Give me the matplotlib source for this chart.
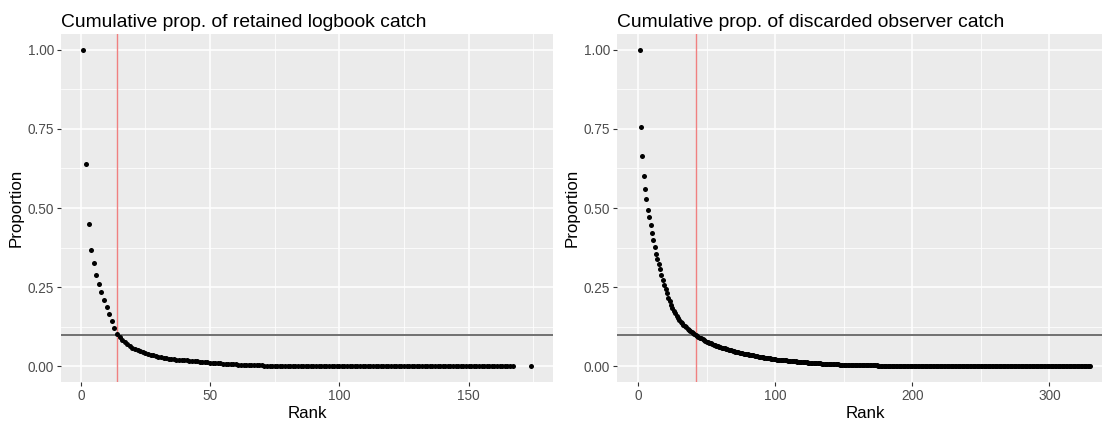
import matplotlib
matplotlib.use('Agg')
import matplotlib.pyplot as plt
import numpy as np

plt.rcParams['font.family'] = ['Liberation Sans', 'DejaVu Sans']

# cumulative proportion of retained catch (logbook), by species rank
logbook_rank = list(range(1, 168)) + [174]
logbook_prop = [
    1.000, 0.640, 0.449, 0.367, 0.325, 0.289, 0.259, 0.235, 0.210, 0.187,
    0.165, 0.142, 0.122, 0.101, 0.092, 0.084, 0.077, 0.070, 0.064, 0.059,
    0.055, 0.051, 0.047, 0.044, 0.041, 0.038, 0.036, 0.034, 0.032, 0.030,
    0.028, 0.027, 0.026, 0.024, 0.023, 0.022, 0.021, 0.020, 0.019, 0.019,
    0.018, 0.017, 0.016, 0.015, 0.015, 0.014, 0.013, 0.012, 0.012, 0.011,
    0.010, 0.010, 0.009, 0.009, 0.008, 0.008, 0.007, 0.007, 0.006, 0.006,
    0.005, 0.005, 0.005, 0.004, 0.004, 0.004, 0.003, 0.003, 0.003, 0.003,
    0.002, 0.002, 0.002, 0.002, 0.002, 0.002, 0.002, 0.002, 0.001, 0.001,
    0.001, 0.001, 0.001, 0.001, 0.001, 0.001, 0.001, 0.001, 0.001, 0.001,
    0.001, 0.001, 0.001, 0.001, 0.001, 0.001, 0.001, 0.001, 0.001, 0.001,
    0.001, 0.001, 0.001, 0.001, 0.001, 0.000, 0.000, 0.000, 0.000, 0.000,
    0.000, 0.000, 0.000, 0.000, 0.000, 0.000, 0.000, 0.000, 0.000, 0.000,
    0.000, 0.000, 0.000, 0.000, 0.000, 0.000, 0.000, 0.000, 0.000, 0.000,
    0.000, 0.000, 0.000, 0.000, 0.000, 0.000, 0.000, 0.000, 0.000, 0.000,
    0.000, 0.000, 0.000, 0.000, 0.000, 0.000, 0.000, 0.000, 0.000, 0.000,
    0.000, 0.000, 0.000, 0.000, 0.000, 0.000, 0.000, 0.000, 0.000, 0.000,
    0.000, 0.000, 0.000, 0.000, 0.000, 0.000, 0.000, 0.000,
]
logbook_cut = 14

# cumulative proportion of discarded catch (observer), by species rank
observer_rank = list(range(1, 331))
observer_prop = [
    1.000, 0.757, 0.665, 0.602, 0.560, 0.527, 0.494, 0.470, 0.446, 0.420,
    0.399, 0.378, 0.356, 0.338, 0.323, 0.306, 0.289, 0.273, 0.258, 0.244,
    0.230, 0.217, 0.205, 0.194, 0.184, 0.175, 0.167, 0.160, 0.153, 0.147,
    0.141, 0.136, 0.131, 0.127, 0.123, 0.119, 0.115, 0.112, 0.109, 0.106,
    0.103, 0.099, 0.096, 0.093, 0.090, 0.088, 0.085, 0.083, 0.080, 0.078,
    0.076, 0.074, 0.072, 0.070, 0.068, 0.066, 0.065, 0.063, 0.062, 0.060,
    0.059, 0.057, 0.056, 0.055, 0.053, 0.052, 0.051, 0.050, 0.048, 0.047,
    0.046, 0.045, 0.044, 0.043, 0.042, 0.041, 0.040, 0.039, 0.038, 0.037,
    0.036, 0.035, 0.034, 0.034, 0.033, 0.032, 0.031, 0.030, 0.030, 0.029,
    0.028, 0.027, 0.027, 0.026, 0.025, 0.025, 0.024, 0.023, 0.023, 0.022,
    0.021, 0.021, 0.020, 0.020, 0.019, 0.019, 0.018, 0.018, 0.017, 0.017,
    0.016, 0.016, 0.015, 0.015, 0.015, 0.014, 0.014, 0.013, 0.013, 0.013,
    0.012, 0.012, 0.012, 0.011, 0.011, 0.011, 0.010, 0.010, 0.010, 0.009,
    0.009, 0.009, 0.009, 0.008, 0.008, 0.008, 0.008, 0.007, 0.007, 0.007,
    0.007, 0.006, 0.006, 0.006, 0.006, 0.006, 0.005, 0.005, 0.005, 0.005,
    0.005, 0.005, 0.004, 0.004, 0.004, 0.004, 0.004, 0.004, 0.004, 0.003,
    0.003, 0.003, 0.003, 0.003, 0.003, 0.003, 0.003, 0.003, 0.003, 0.003,
    0.003, 0.003, 0.003, 0.003, 0.002, 0.002, 0.002, 0.002, 0.002, 0.002,
    0.002, 0.002, 0.002, 0.002, 0.002, 0.002, 0.002, 0.002, 0.002, 0.002,
    0.001, 0.001, 0.001, 0.001, 0.001, 0.001, 0.001, 0.001, 0.001, 0.001,
    0.001, 0.001, 0.001, 0.001, 0.001, 0.001, 0.001, 0.001, 0.001, 0.001,
    0.001, 0.001, 0.001, 0.001, 0.001, 0.001, 0.001, 0.001, 0.001, 0.001,
    0.001, 0.001, 0.001, 0.001, 0.001, 0.001, 0.001, 0.001, 0.001, 0.001,
    0.001, 0.001, 0.001, 0.001, 0.001, 0.000, 0.000, 0.000, 0.000, 0.000,
    0.000, 0.000, 0.000, 0.000, 0.000, 0.000, 0.000, 0.000, 0.000, 0.000,
    0.000, 0.000, 0.000, 0.000, 0.000, 0.000, 0.000, 0.000, 0.000, 0.000,
    0.000, 0.000, 0.000, 0.000, 0.000, 0.000, 0.000, 0.000, 0.000, 0.000,
    0.000, 0.000, 0.000, 0.000, 0.000, 0.000, 0.000, 0.000, 0.000, 0.000,
    0.000, 0.000, 0.000, 0.000, 0.000, 0.000, 0.000, 0.000, 0.000, 0.000,
    0.000, 0.000, 0.000, 0.000, 0.000, 0.000, 0.000, 0.000, 0.000, 0.000,
    0.000, 0.000, 0.000, 0.000, 0.000, 0.000, 0.000, 0.000, 0.000, 0.000,
    0.000, 0.000, 0.000, 0.000, 0.000, 0.000, 0.000, 0.000, 0.000, 0.000,
    0.000, 0.000, 0.000, 0.000, 0.000, 0.000, 0.000, 0.000, 0.000, 0.000,
]
observer_cut = 42

threshold = 0.1
y_ticks = [0.0, 0.25, 0.5, 0.75, 1.0]

W, H = 1102, 421


def gg_panel(ax, rank, prop, cut, title, x_major, x_minor):
    ax.set_facecolor('#EBEBEB')
    for s in ax.spines.values():
        s.set_visible(False)
    ax.set_xticks(x_major)
    ax.set_xticks(x_minor, minor=True)
    ax.set_yticks(y_ticks)
    ax.set_yticks([0.125, 0.375, 0.625, 0.875], minor=True)
    ax.set_yticklabels(['%.2f' % v for v in y_ticks])
    ax.grid(which='major', color='white', linewidth=1.1)
    ax.grid(which='minor', color='white', linewidth=0.55)
    ax.set_axisbelow(True)
    ax.tick_params(which='major', length=3, width=0.8, color='#333333',
                   labelcolor='#4D4D4D', labelsize=9.8, pad=2)
    ax.tick_params(which='minor', length=0)

    ax.scatter(rank, prop, s=13, color='black', linewidths=0, zorder=3)
    ax.axhline(threshold, color='#707070', linewidth=1.4, zorder=2)
    ax.axvline(cut, color='#F08080', linewidth=1.0, zorder=2)

    span = max(rank) - min(rank)
    ax.set_xlim(min(rank) - 0.05 * span, max(rank) + 0.05 * span)
    ax.set_ylim(-0.05, 1.05)
    ax.set_xlabel('Rank', fontsize=12.2, labelpad=2)
    ax.set_ylabel('Proportion', fontsize=12.2, labelpad=3)
    ax.set_title(title, loc='left', fontsize=13.9, pad=5)


fig = plt.figure(figsize=(W / 100, H / 100), dpi=100)
bottom, top = 382, 34
ax1 = fig.add_axes([61 / W, (H - bottom) / H, (553 - 61) / W, (bottom - top) / H])
ax2 = fig.add_axes([617 / W, (H - bottom) / H, (1113 - 617) / W, (bottom - top) / H])

gg_panel(ax1, logbook_rank, logbook_prop, logbook_cut,
         'Cumulative prop. of retained logbook catch',
         [0, 50, 100, 150], [25, 75, 125, 175])
gg_panel(ax2, observer_rank, observer_prop, observer_cut,
         'Cumulative prop. of discarded observer catch',
         [0, 100, 200, 300], [50, 150, 250, 350])

fig.savefig('out.png', dpi=100)
